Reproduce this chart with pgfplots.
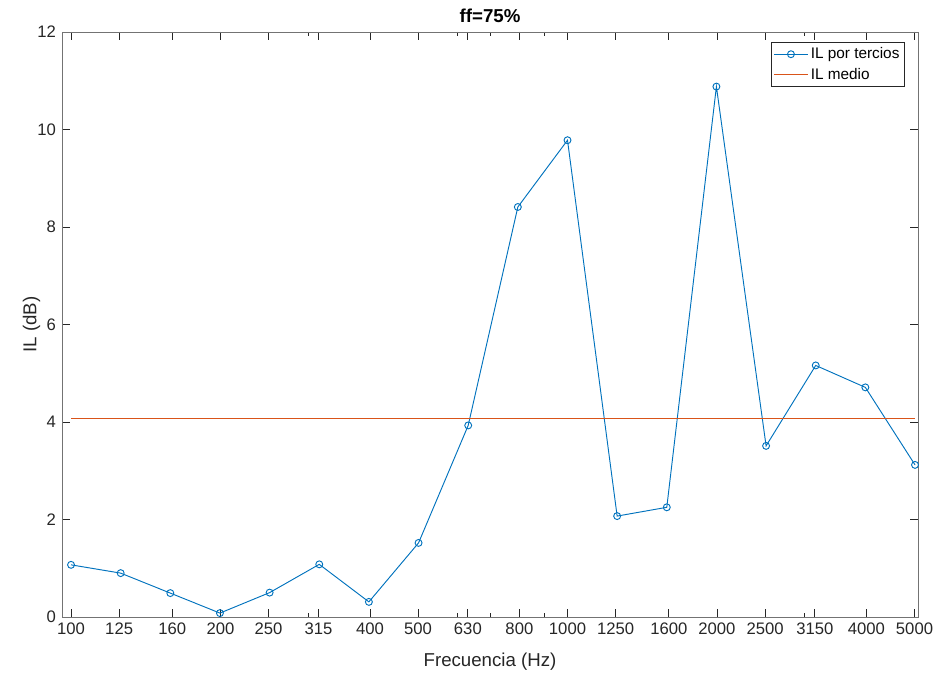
\documentclass[border=0pt]{standalone}
\usepackage{fontspec}
\setmainfont{Liberation Sans}
\usepackage{pgfplots}
\pgfplotsset{compat=1.18}
\definecolor{mblue}{rgb}{0,0.447,0.741}
\definecolor{morange}{rgb}{0.85,0.325,0.098}
\definecolor{maxis}{rgb}{0.15,0.15,0.15}
\begin{document}
\begin{tikzpicture}
\begin{axis}[
  at={(0pt,0pt)}, anchor=south west,
  scale only axis, width=642pt, height=438.75pt,
  xmode=log, xmin=95.9, xmax=5082, ymin=0, ymax=12,
  xtick={100,125,160,200,250,315,400,500,630,800,1000,1250,1600,2000,2500,3150,4000,5000},
  xticklabels={100,125,160,200,250,315,400,500,630,800,1000,1250,1600,2000,2500,3150,4000,5000},
  minor xtick={200,300,400,500,600,700,800,900,2000,3000,4000,5000},
  ytick={0,2,4,6,8,10,12},
  yticklabels={0,2,4,6,8,10,12},
  tick align=inside,
  major tick length=6pt, minor tick length=3pt,
  axis line style={draw=black!55, line width=0.6pt},
  tick style={draw=maxis, line width=0.6pt},
  ticklabel style={font=\fontsize{12.5}{14}\selectfont, text=maxis},
  /pgf/number format/assume math mode=true,
  xticklabel style={yshift=-1pt},
  yticklabel style={xshift=-1pt},
  xlabel={Frecuencia (Hz)},
  ylabel={IL (dB)},
  label style={font=\fontsize{14}{16}\selectfont, text=maxis},
  xlabel style={yshift=-7pt},
  ylabel style={yshift=-9pt},
  title={ff=75\%},
  title style={font=\bfseries\fontsize{14}{16}\selectfont, text=black, yshift=-2.5pt},
  legend style={at={(0.985,0.983)}, anchor=north east, draw=maxis, line width=0.6pt,
    font=\fontsize{11.5}{13}\selectfont, inner sep=2pt, row sep=1.5pt},
  legend cell align=left,
  legend image code/.code={\draw[mark repeat=2,mark phase=2,#1] plot coordinates {(0pt,0pt)(12.5pt,0pt)(25pt,0pt)};},
]
\addplot[mblue, line width=0.7pt, mark=o, mark size=2.6pt, mark options={solid, line width=0.7pt}] coordinates {
(100,1.07) (125.89,0.90) (158.49,0.49) (199.53,0.08) (251.19,0.50) (316.23,1.08)
(398.11,0.31) (501.19,1.52) (630.96,3.93) (794.33,8.41) (1000,9.78) (1258.9,2.07)
(1584.9,2.25) (1995.3,10.88) (2511.9,3.51) (3162.3,5.16) (3981.1,4.71) (5011.9,3.12)
};
\addlegendentry{IL por tercios}
\addplot[morange, line width=0.8pt] coordinates {(100,4.08) (5011.9,4.08)};
\addlegendentry{IL medio}
\end{axis}
\pgfresetboundingbox
\useasboundingbox (-46.5pt,-42pt) rectangle (654pt,462.75pt);
\end{tikzpicture}
\end{document}
